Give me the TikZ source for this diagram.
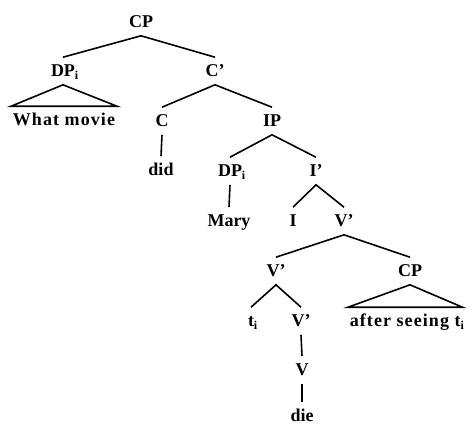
\documentclass[tikz,border=0pt]{standalone}
\usepackage{fontspec}
\setmainfont{Liberation Serif}
\newfontfamily\widefont{Liberation Serif}[LetterSpace=6]
\newcommand\idx{\rlap{\raisebox{-3pt}{\fontsize{12}{12}\selectfont i}}}
\begin{document}
\begin{tikzpicture}[x=1pt,y=-1pt,line width=1.6pt,
    lab/.style={anchor=base,font=\fontsize{18}{21}\selectfont\bfseries,
      text height=12pt,text depth=2pt,inner ysep=6pt,inner xsep=1pt},
    wide/.style={lab,font=\fontsize{18}{21}\selectfont\widefont\bfseries}]
  \useasboundingbox (0,0) rectangle (469,424);
    \node[lab] (CP0) at (141,27) {CP};
    \node[lab] (DP1) at (63,76) {DP\idx};
    \node[lab] (Cb1) at (215,76) {C'};
    \node[wide] (WM) at (64,125) {What movie};
    \node[lab] (C2) at (162,126) {C};
    \node[lab] (IP2) at (272,126) {IP};
    \node[lab] (did) at (161,175) {did};
    \node[lab] (DP3) at (230,176) {DP\idx};
    \node[lab] (Ib3) at (316,176) {I'};
    \node[lab] (Mary) at (229,226) {Mary};
    \node[lab] (I4) at (293,226) {I};
    \node[lab] (Vb4) at (344,226) {V'};
    \node[lab] (Vb5) at (276,276) {V'};
    \node[lab] (CP5) at (410,276) {CP};
    \node[lab] (ti) at (251,326) {t\idx};
    \node[lab] (Vb6) at (301,326) {V'};
    \node[wide,anchor=base west] (after) at (348,326) {after seeing t\idx};
    \node[lab] (V7) at (302,375) {V};
    \node[lab] (die) at (302,421) {die};
    \draw (DP1.north) -- (CP0.south) -- (Cb1.north);
    \draw (DP1.south) -- (WM.north west) -- (WM.north east) -- cycle;
    \draw (C2.north) -- (Cb1.south) -- (IP2.north);
    \draw (C2.south) -- (did.north);
    \draw (DP3.north) -- (IP2.south) -- (Ib3.north);
    \draw (DP3.south) -- (Mary.north);
    \draw (I4.north) -- (Ib3.south) -- (Vb4.north);
    \draw (Vb5.north) -- (Vb4.south) -- (CP5.north);
    \draw (ti.north) -- (Vb5.south) -- (Vb6.north);
    \draw (CP5.south) -- (after.north west) -- (after.north east) -- cycle;
    \draw (Vb6.south) -- (V7.north);
    \draw (V7.south) -- (die.north);
  \end{tikzpicture}
\end{document}
